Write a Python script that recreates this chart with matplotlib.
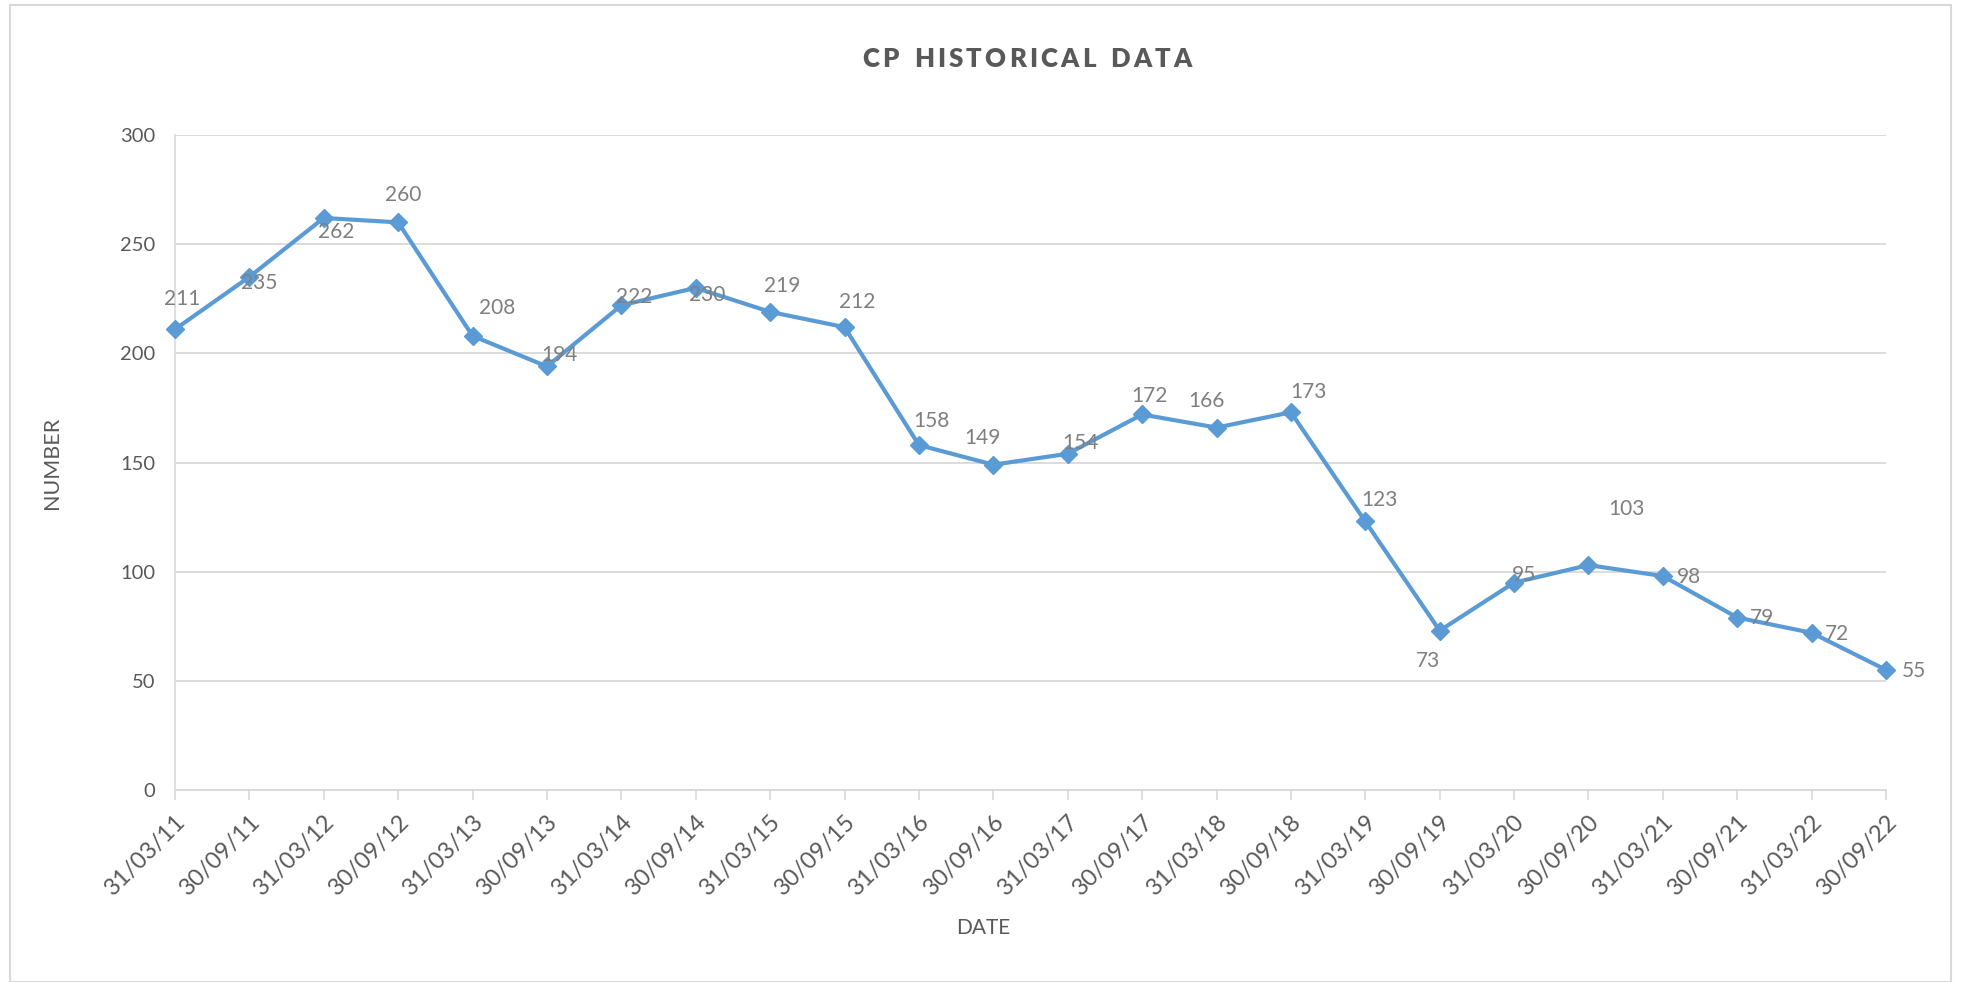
import matplotlib
matplotlib.use("Agg")
import matplotlib.pyplot as plt
from matplotlib.patches import Rectangle

dates = ["31/03/11", "30/09/11", "31/03/12", "30/09/12", "31/03/13", "30/09/13",
         "31/03/14", "30/09/14", "31/03/15", "30/09/15", "31/03/16", "30/09/16",
         "31/03/17", "30/09/17", "31/03/18", "30/09/18", "31/03/19", "30/09/19",
         "31/03/20", "30/09/20", "31/03/21", "30/09/21", "31/03/22", "30/09/22"]
values = [211, 235, 262, 260, 208, 194, 222, 230, 219, 212, 158, 149,
          154, 172, 166, 173, 123, 73, 95, 103, 98, 79, 72, 55]
yticks = [0, 50, 100, 150, 200, 250, 300]
title = "CP HISTORICAL DATA"

# label offsets (pixels, in shrunk reference units)
label_dx = [6, 8, 10, 4, 20, 10, 10, 9, 10, 10, 10, -9, 10, 6, -8, 14, 11, -9, 8, 30, 21, 20, 20, 22]
label_dy = [24, -5, -11, 22, 22, 9, 7, -6, 21, 20, 19, 21, 9, 15, 21, 16, 17, -24, 6, 45, -1, 0, -1, -1]

FONT = "Lato"
plt.rcParams["font.family"] = [FONT, "DejaVu Sans"]

W, H = 1961, 982
fig = plt.figure(figsize=(W / 100, H / 100), dpi=100)
ax = fig.add_axes([0.0892, 0.1955, 0.9618 - 0.0892, 0.8625 - 0.1955])

# outer chart border
fig.patches.append(Rectangle((10 / W, 0.0), 1 - 20 / W, 1 - 5 / H,
                             transform=fig.transFigure, fill=False,
                             edgecolor="#d9d9d9", linewidth=1.5))

x = list(range(len(values)))
ax.plot(x, values, color="#5b9bd5", linewidth=3.0, marker="D", markersize=9.5,
        markerfacecolor="#5b9bd5", markeredgecolor="#5b9bd5", zorder=3, clip_on=False)

for xi, v, dx, dy in zip(x, values, label_dx, label_dy):
    ax.annotate(str(v), (xi, v), xytext=(dx * 1.25, dy * 1.25), textcoords="offset pixels",
                ha="center", va="center", fontsize=15, color="#7f7f7f", zorder=4)

ax.set_xlim(0, len(values) - 1)
ax.set_ylim(0, 300)
ax.set_yticks(yticks)
ax.set_yticklabels([str(t) for t in yticks], fontsize=14.5, color="#595959")
ax.set_xticks(x)
ax.set_xticklabels(dates, rotation=45, ha="right", va="top", rotation_mode="anchor",
                   fontsize=17, color="#595959")
ax.tick_params(axis="y", length=0, pad=14)
ax.tick_params(axis="x", length=7, width=1.2, color="#d9d9d9", direction="out", pad=8)

ax.grid(axis="y", color="#d9d9d9", linewidth=1.3)
ax.set_axisbelow(True)
for s in ["top", "right"]:
    ax.spines[s].set_visible(False)
ax.spines["left"].set_color("#d9d9d9")
ax.spines["left"].set_linewidth(1.2)
ax.spines["bottom"].set_color("#d9d9d9")
ax.spines["bottom"].set_linewidth(1.3)

# letter-spaced title
renderer = fig.canvas.get_renderer()
tkw = dict(fontsize=18.5, fontweight="heavy", color="#595959", va="center", ha="left")
target_w = 329.0
center_x = 1027.0
ty = 1 - 59 / H
widths = []
for ch in title:
    t = fig.text(0, 0, ch if ch != " " else "-", **tkw)
    bb = t.get_window_extent(renderer)
    widths.append(bb.width if ch != " " else bb.width * 0.9)
    t.remove()
gap = (target_w - sum(widths)) / (len(title) - 1)
xpos = center_x - target_w / 2
for ch, w in zip(title, widths):
    if ch != " ":
        fig.text(xpos / W, ty, ch, **tkw)
    xpos += w + gap

fig.text(52 / W, 0.5 * (0.8625 + 0.1955), "NUMBER", rotation=90, ha="center", va="center",
         fontsize=15.5, color="#595959")
fig.text(983 / W, 1 - 928 / H, "DATE", ha="center", va="center",
         fontsize=15, color="#595959")

fig.savefig("out.png", dpi=100, facecolor="white")
